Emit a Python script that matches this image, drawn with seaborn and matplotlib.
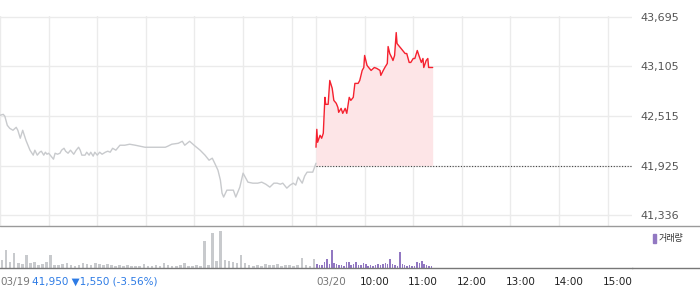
import matplotlib
matplotlib.use("Agg")
import matplotlib.pyplot as plt
import seaborn as sns
import pandas as pd
from matplotlib.lines import Line2D
from matplotlib.patches import Rectangle
import matplotlib.transforms as mtransforms

sns.set_style("white")
plt.rcParams['font.family'] = ['DejaVu Sans', 'Noto Sans CJK KR']

# ---------------- data ----------------
# 03/19 session (minutes after 09:00) and price
prev_minutes = [0, 4, 6, 9, 12, 16, 20, 22, 25, 28, 32, 37, 41, 43, 46, 49, 51, 54, 56, 58,
                60, 63, 66, 68, 71, 74, 76, 79, 81, 84, 87, 89, 91, 94, 97, 99, 101, 105,
                107, 110, 112, 115, 117, 120, 123, 126, 130, 133, 136, 139, 143, 148, 154,
                160, 167, 173, 179, 185, 191, 197, 204, 207, 212, 220, 225, 228, 234, 241,
                247, 253, 258, 262, 265, 269, 272, 274, 276, 280, 284, 288, 291, 296, 300,
                306, 312, 318, 323, 328, 333, 338, 342, 346, 349, 354, 358, 362, 365, 368,
                373, 376, 379, 386, 390]
prev_price = [42522, 42533, 42510, 42403, 42367, 42344, 42379, 42344, 42249, 42344, 42225,
              42107, 42048, 42107, 42048, 42083, 42095, 42048, 42083, 42059, 42071, 42036,
              42000, 42071, 42059, 42071, 42107, 42130, 42095, 42071, 42107, 42083, 42059,
              42107, 42142, 42107, 42048, 42048, 42083, 42048, 42083, 42036, 42083, 42048,
              42083, 42059, 42083, 42095, 42083, 42130, 42107, 42166, 42166, 42178, 42166,
              42154, 42142, 42142, 42142, 42142, 42142, 42154, 42178, 42189, 42213, 42166,
              42213, 42154, 42107, 42048, 41988, 42012, 41952, 41869, 41751, 41597, 41550,
              41632, 41632, 41632, 41550, 41668, 41834, 41727, 41715, 41715, 41727, 41703,
              41668, 41715, 41715, 41703, 41715, 41656, 41692, 41715, 41692, 41787, 41715,
              41800, 41846, 41846, 41952]

# 03/20 session (minutes after 09:00) and price
today_minutes = [0, 1, 2, 5, 7, 9, 11, 12, 15, 17, 20, 22, 25, 27, 28, 31, 33, 36, 38, 41,
                 43, 46, 48, 52, 54, 57, 59, 60, 63, 65, 68, 72, 75, 79, 80, 83, 85, 88, 89,
                 91, 94, 95, 97, 99, 100, 102, 105, 107, 110, 112, 115, 117, 120, 122, 125,
                 127, 130, 132, 133, 136, 138, 139, 142, 144]
today_price = [42142, 42355, 42201, 42284, 42249, 42308, 42735, 42652, 42652, 42936, 42842,
               42699, 42664, 42616, 42557, 42604, 42545, 42604, 42545, 42735, 42699, 42735,
               42901, 42901, 42936, 43055, 43090, 43233, 43114, 43090, 43055, 43090, 43079,
               43055, 42996, 43055, 43090, 43138, 43339, 43256, 43197, 43173, 43233, 43505,
               43375, 43351, 43316, 43292, 43256, 43256, 43150, 43150, 43197, 43197, 43292,
               43233, 43150, 43197, 43090, 43173, 43197, 43090, 43090, 43090]

prev_close = 41925
y_ticks = [41336, 41925, 42515, 43105, 43695]
y_tick_labels = ["41,336", "41,925", "42,515", "43,105", "43,695"]

# volume: 03/19 in 5-minute bins, 03/20 in 3-minute bins
prev_volume = [8, 18, 6, 15, 5, 4, 13, 5, 6, 3, 4, 6, 13, 3, 3, 4, 5, 3, 2, 3, 5, 4, 3, 5,
               4, 3, 4, 3, 2, 3, 2, 3, 2, 2, 2, 4, 2, 2, 3, 2, 5, 3, 2, 2, 3, 5, 2, 2, 3, 2,
               27, 3, 35, 7, 37, 8, 7, 6, 5, 13, 5, 3, 2, 3, 2, 4, 3, 3, 4, 2, 3, 3, 2, 3,
               10, 3, 2, 9]
today_volume = [4, 3, 3, 6, 9, 4, 18, 5, 4, 3, 3, 2, 6, 6, 3, 4, 6, 3, 3, 5, 4, 2, 3, 2,
                3, 4, 3, 4, 5, 4, 9, 4, 3, 2, 16, 4, 3, 2, 3, 2, 2, 6, 5, 7, 4, 3, 2, 2]

date_labels = ["03/19", "03/20"]
hour_labels = ["10:00", "11:00", "12:00", "13:00", "14:00", "15:00"]
summary_text = "41,950 \u25bc1,550 (-3.56%)"
legend_text = "거래량"

# ---------------- layout ----------------
W, H = 700, 289
fig = plt.figure(figsize=(W / 100, H / 100), dpi=100)
ax = fig.add_axes([0, 63 / H, 632 / W, 210 / H])
axv = fig.add_axes([0, 21 / H, 632 / W, 40 / H])

SESSION = 390
prev_df = pd.DataFrame({"x": prev_minutes, "price": prev_price})
today_df = pd.DataFrame({"x": [SESSION + m for m in today_minutes], "price": today_price})

grid_x = [0, 60, 120, 180, 240, 300, 360, 390, 450, 510, 570, 630, 690, 750]

# price panel
ax.fill_between(today_df["x"], today_df["price"], prev_close, color="#fde5e7", lw=0, zorder=1)
sns.lineplot(data=prev_df, x="x", y="price", ax=ax, color="#c8cacd", lw=1.0, zorder=3)
sns.lineplot(data=today_df, x="x", y="price", ax=ax, color="#f5212f", lw=1.0, zorder=4)
ax.plot([SESSION, 780], [prev_close, prev_close], ls=(0, (1, 1.5)), color="#444444", lw=0.8, zorder=2)

ax.set_xlim(0, 780)
ax.set_ylim(41206, 43702)
ax.set_xticks(grid_x)
ax.set_xticklabels([])
ax.set_yticks(y_ticks)
ax.set_yticklabels(y_tick_labels)
ax.yaxis.tick_right()
ax.tick_params(axis="y", length=0, pad=6, labelsize=8, labelcolor="#555555")
ax.tick_params(axis="x", length=0)
ax.grid(True, color="#ebebeb", lw=1.0)
ax.set_axisbelow(True)
ax.set_xlabel("")
ax.set_ylabel("")
for s in ax.spines.values():
    s.set_visible(False)

# volume panel
prev_vx = [5 * i + 2.5 for i in range(len(prev_volume))]
today_vx = [SESSION + 3 * i + 1.5 for i in range(len(today_volume))]
axv.bar(prev_vx, prev_volume, width=3.2, color="#c8cacd", lw=0)
axv.bar(today_vx, today_volume, width=1.9, color="#9278c2", lw=0)
axv.set_xlim(0, 780)
axv.set_ylim(0, 40)
axv.set_yticks([])
axv.set_xticks([0, 390, 450, 510, 570, 630, 690, 750])
axv.set_xticklabels([])
axv.tick_params(axis="x", length=4, width=1, color="#777777", direction="out")
for k, s in axv.spines.items():
    s.set_visible(k == "bottom")
axv.spines["bottom"].set_color("#777777")
axv.spines["bottom"].set_linewidth(1.0)

# full-width separator lines
fig.add_artist(Line2D([0, 1], [1 - 226 / H, 1 - 226 / H], color="#9a9a9a", lw=1.0))
fig.add_artist(Line2D([632 / W, 1], [21 / H, 21 / H], color="#777777", lw=1.0))

# bottom labels
ty = 1 - 282 / H
fig.text(0 / W, ty, date_labels[0], fontsize=7.5, color="#777777", va="center", ha="left")
fig.text(32 / W, ty, summary_text, fontsize=7.5, color="#2d7be5", va="center", ha="left")
fig.text(316 / W, ty, date_labels[1], fontsize=7.5, color="#777777", va="center", ha="left")
trans = mtransforms.blended_transform_factory(axv.transData, fig.transFigure)
offset = mtransforms.ScaledTranslation(-5 / 100, 0, fig.dpi_scale_trans)
for lab, m in zip(hour_labels, [450, 510, 570, 630, 690, 750]):
    axv.text(m, ty, lab, fontsize=7.5, color="#222222", va="center", ha="left",
             transform=trans + offset)

# legend
fig.add_artist(Rectangle((653 / W, 1 - 243 / H), 3 / W, 9 / H, color="#9278c2",
                         transform=fig.transFigure))
fig.text(659 / W, 1 - 238 / H, legend_text, fontsize=6.5, color="#333333", va="center", ha="left")

fig.savefig("out.png", dpi=100)
